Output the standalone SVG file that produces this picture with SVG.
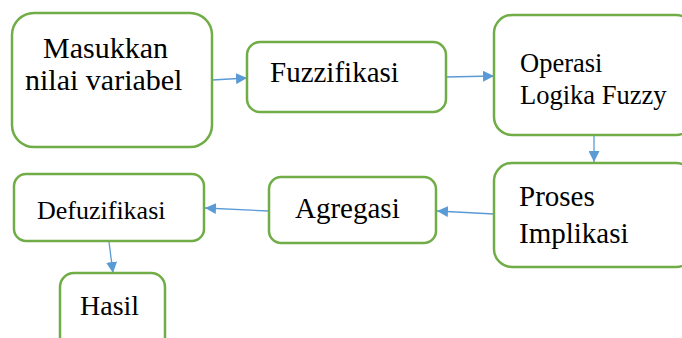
<svg xmlns="http://www.w3.org/2000/svg" width="682" height="338" viewBox="0 0 682 338">
<style>
.box{fill:#fff;stroke:#70AD47;stroke-width:2.5}
.c{stroke:#5B9BD5;stroke-width:1.3;fill:none}
</style>
<defs>
<marker id="ah" viewBox="0 0 10 10" refX="10" refY="5" markerWidth="11" markerHeight="11" markerUnits="userSpaceOnUse" orient="auto">
<path d="M0,0 L10,5 L0,10 z" fill="#5B9BD5"/>
</marker>
</defs>
<rect width="682" height="338" fill="#fff"/>
<g id="connectors">
<line class="c" x1="212" y1="80" x2="247" y2="78" marker-end="url(#ah)"/>
<line class="c" x1="446" y1="77" x2="494" y2="76" marker-end="url(#ah)"/>
<line class="c" x1="594" y1="135" x2="594" y2="162" marker-end="url(#ah)"/>
<line class="c" x1="494" y1="214" x2="437" y2="211" marker-end="url(#ah)"/>
<line class="c" x1="269" y1="211" x2="205" y2="208" marker-end="url(#ah)"/>
<line class="c" x1="109" y1="242" x2="113" y2="273" marker-end="url(#ah)"/>
</g>
<g font-family="Liberation Serif, DejaVu Serif, serif" fill="#000">
<g id="n1"><rect class="box" x="12" y="13" width="200" height="134" rx="22"/>
<text font-size="30" x="43" y="58">Masukkan</text>
<text font-size="30" x="25" y="90">nilai variabel</text></g>
<g id="n2"><rect class="box" x="247" y="42" width="199" height="70" rx="13"/>
<text font-size="29" x="270" y="82">Fuzzifikasi</text></g>
<g id="n3"><rect class="box" x="494" y="15" width="200" height="120" rx="18"/>
<text font-size="26.5" x="520" y="72">Operasi</text>
<text font-size="26.5" x="520" y="104">Logika Fuzzy</text></g>
<g id="n4"><rect class="box" x="494" y="163" width="200" height="104" rx="18"/>
<text font-size="29" x="519" y="206">Proses</text>
<text font-size="29" x="519" y="243">Implikasi</text></g>
<g id="n5"><rect class="box" x="269" y="177" width="167" height="66" rx="12"/>
<text font-size="29" x="295" y="218">Agregasi</text></g>
<g id="n6"><rect class="box" x="14" y="174" width="190" height="67" rx="12"/>
<text font-size="26" x="37" y="219">Defuzifikasi</text></g>
<g id="n7"><rect class="box" x="60" y="273" width="105" height="80" rx="14"/>
<text font-size="28" x="80" y="315">Hasil</text></g>
</g>
</svg>
